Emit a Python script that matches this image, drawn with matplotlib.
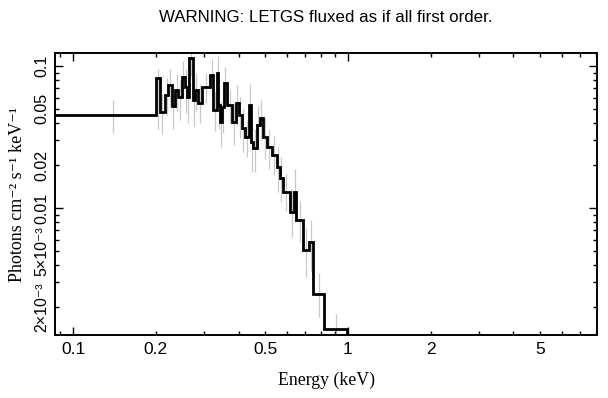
import numpy as np
import matplotlib
matplotlib.use("Agg")
import matplotlib.pyplot as plt
from matplotlib.ticker import LogLocator, FuncFormatter

# ---- data ----
bin_edges = [0.08, 0.200, 0.207, 0.216, 0.2216, 0.229, 0.235, 0.241, 0.249, 0.2555,
             0.2598, 0.264, 0.273, 0.2777, 0.2848, 0.2944, 0.315, 0.323, 0.334, 0.3368,
             0.3425, 0.348, 0.354, 0.363, 0.3788, 0.3915, 0.4015, 0.4117, 0.422, 0.4365,
             0.4438, 0.4513, 0.4667, 0.4786, 0.4908, 0.5075, 0.5292, 0.5518, 0.566, 0.5802,
             0.6151, 0.6362, 0.6470, 0.686, 0.7214, 0.746, 0.818, 0.992, 1.5]
flux = [0.0452, 0.0823, 0.0474, 0.0625, 0.0735, 0.052, 0.068, 0.0605, 0.0837, 0.0711,
        0.0605, 0.113, 0.0576, 0.0678, 0.0549, 0.0711, 0.0864, 0.049, 0.0893, 0.0531,
        0.0404, 0.0514, 0.0759, 0.0531, 0.0404, 0.0549, 0.0452, 0.0366, 0.0316, 0.0531,
        0.0290, 0.0265, 0.0384, 0.0431, 0.0316, 0.0269, 0.0236, 0.0195, 0.0163, 0.0130,
        0.0094, 0.0130, 0.0082, 0.0051, 0.0058, 0.0025, 0.0014, 1e-5]
flux_lo = [0.034, 0.036, 0.033, 0.045, 0.052, 0.036, 0.048, 0.042, 0.060, 0.047,
           0.040, 0.085, 0.038, 0.048, 0.040, 0.055, 0.062, 0.035, 0.055, 0.036,
           0.027, 0.034, 0.055, 0.040, 0.028, 0.038, 0.031, 0.025, 0.023, 0.033,
           0.018, 0.018, 0.026, 0.030, 0.022, 0.019, 0.017, 0.013, 0.011, 0.0095,
           0.0063, 0.008, 0.0058, 0.0033, 0.0036, 0.0017, 0.0008, np.nan]
flux_hi = [0.058, 0.095, 0.064, 0.082, 0.095, 0.070, 0.088, 0.080, 0.108, 0.095,
           0.082, 0.124, 0.078, 0.090, 0.072, 0.090, 0.112, 0.066, 0.118, 0.072,
           0.056, 0.070, 0.098, 0.068, 0.055, 0.073, 0.061, 0.050, 0.042, 0.075,
           0.042, 0.036, 0.052, 0.058, 0.043, 0.036, 0.032, 0.027, 0.023, 0.0175,
           0.0132, 0.019, 0.0112, 0.0072, 0.0082, 0.0035, 0.0018, np.nan]

x_label_vals = [0.1, 0.2, 0.5, 1, 2, 5]
x_label_text = ["0.1", "0.2", "0.5", "1", "2", "5"]
y_label_vals = [0.1, 0.05, 0.02, 0.01, 0.005, 0.002]
y_label_text = ["0.1", "0.05", "0.02", "0.01", "5×10⁻³", "2×10⁻³"]

title = "WARNING: LETGS fluxed as if all first order."
xlabel = "Energy (keV)"
ylabel = "Photons cm⁻² s⁻¹ keV⁻¹"

# ---- figure ----
sans = ["Liberation Sans", "DejaVu Sans"]
serif = ["Liberation Serif", "DejaVu Serif"]

fig = plt.figure(figsize=(6.08, 3.98), dpi=100)
ax = fig.add_axes([55/608, (398-335)/398, (597-55)/608, (335-53)/398])
ax.set_xscale("log")
ax.set_yscale("log")

edges = np.array(bin_edges)
centers = 0.5 * (edges[:-1] + edges[1:])
ax.vlines(centers, flux_lo, flux_hi, color="#c8c8c8", lw=0.9, zorder=1)
ax.stairs(flux, edges, baseline=None, color="black", lw=2.0, zorder=2)

ax.set_xlim(0.086, 8.05)
ax.set_ylim(0.00128, 0.1235)

for axis in (ax.xaxis, ax.yaxis):
    axis.set_major_locator(LogLocator(base=10, numticks=20))
    axis.set_minor_locator(LogLocator(base=10, subs=np.arange(2, 10), numticks=20))

def make_fmt(vals, texts):
    def f(v, pos):
        for a, t in zip(vals, texts):
            if abs(np.log10(v) - np.log10(a)) < 1e-6:
                return t
        return ""
    return FuncFormatter(f)

ax.xaxis.set_major_formatter(make_fmt(x_label_vals, x_label_text))
ax.xaxis.set_minor_formatter(make_fmt(x_label_vals, x_label_text))
ax.yaxis.set_major_formatter(make_fmt(y_label_vals, y_label_text))
ax.yaxis.set_minor_formatter(make_fmt(y_label_vals, y_label_text))

ax.tick_params(which="both", direction="in", top=True, right=True, width=1,
               colors="black")
ax.tick_params(axis="x", which="both", labelsize=12.5, pad=5)
ax.tick_params(axis="y", which="both", labelsize=11.5, pad=4)
ax.tick_params(which="major", length=6)
ax.tick_params(which="minor", length=3.2)

for lab in ax.get_xticklabels(which="both"):
    lab.set_family(sans)
for lab in ax.get_yticklabels(which="both"):
    lab.set_family(sans)
    lab.set_rotation(90)
    lab.set_va("center")
    lab.set_ha("right")

for s in ax.spines.values():
    s.set_linewidth(1.4)

fig.text(326/608, 1 - 18/398, title, ha="center", va="center",
         fontsize=12.2, family=sans)
fig.text(326/608, 1 - 380/398, xlabel, ha="center", va="center",
         fontsize=12.8, family=serif)
fig.text(18/608, 1 - 194/398, ylabel, ha="center", va="center",
         rotation=90, fontsize=13, family=serif)

fig.savefig("out.png", dpi=100)
